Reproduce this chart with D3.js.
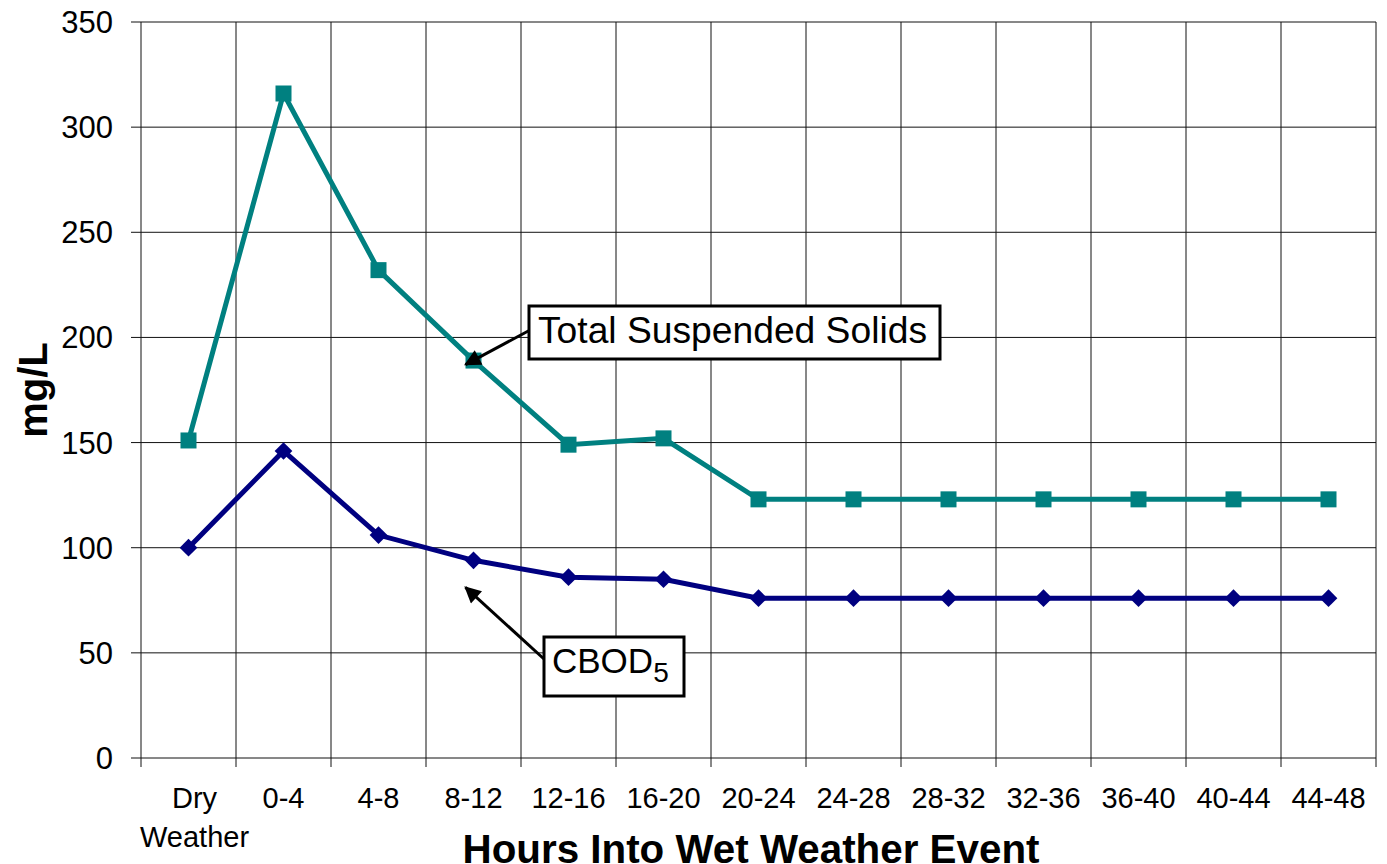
<!DOCTYPE html>
<html>
<head>
<meta charset="utf-8">
<script src="https://cdn.jsdelivr.net/npm/d3@7"></script>
<style>
  body { margin: 0; background: #fff; overflow: hidden; }
  text { font-family: "Liberation Sans", Arial, sans-serif; }
</style>
</head>
<body>
<script>
var width = 1387, height = 864
var margin = {top: 22, right: 11, bottom: 106, left: 141}

var categories = ["Dry\nWeather", "0-4", "4-8", "8-12", "12-16", "16-20", "20-24", "24-28", "28-32", "32-36", "36-40", "40-44", "44-48"]
var tss = [151, 316, 232, 189, 149, 152, 123, 123, 123, 123, 123, 123, 123]
var cbod = [100, 146, 106, 94, 86, 85, 76, 76, 76, 76, 76, 76, 76]
var yTicks = [0, 50, 100, 150, 200, 250, 300, 350]

var svg = d3.select("body").append("svg")
    .attr("width", width)
    .attr("height", height)

var w = width - margin.left - margin.right,
    h = height - margin.top - margin.bottom

var g = svg.append("g").attr("transform", "translate(" + margin.left + "," + margin.top + ")")

var x = d3.scaleBand().domain(categories).range([0, w])
var y = d3.scaleLinear().domain([0, 350]).range([h, 0])

// horizontal grid + ticks
g.selectAll(".hgrid").data(yTicks).enter().append("line")
    .attr("x1", -10).attr("x2", w)
    .attr("y1", function(d) { return y(d) }).attr("y2", function(d) { return y(d) })
    .attr("stroke", "#111").attr("stroke-width", 1)

// vertical grid on band edges, running past the axis as ticks
var bounds = categories.map(function(c) { return x(c) }).concat([w])
g.selectAll(".vgrid").data(bounds).enter().append("line")
    .attr("x1", function(d) { return d }).attr("x2", function(d) { return d })
    .attr("y1", 0).attr("y2", h + 9)
    .attr("stroke", "#111").attr("stroke-width", 1)

// y tick labels
g.selectAll(".ylab").data(yTicks).enter().append("text")
    .attr("x", -28).attr("y", function(d) { return y(d) + 11 })
    .attr("text-anchor", "end")
    .attr("font-size", 31)
    .text(function(d) { return d })

// x tick labels
categories.forEach(function(c) {
  var lines = c.split("\n")
  var cx = x(c) + x.bandwidth() / 2 + (lines.length > 1 ? 6 : 0)
  var t = g.append("text")
      .attr("y", h + 50)
      .attr("text-anchor", "middle")
      .attr("font-size", 29)
  lines.forEach(function(l, i) {
    t.append("tspan")
      .attr("x", cx)
      .attr("dy", i == 0 ? 0 : 39)
      .text(l)
  })
})

// axis titles
svg.append("text")
    .attr("x", 751).attr("y", 863)
    .attr("text-anchor", "middle")
    .attr("font-size", 40).attr("font-weight", "bold")
    .attr("textLength", 577).attr("lengthAdjust", "spacingAndGlyphs")
    .text("Hours Into Wet Weather Event")

svg.append("text")
    .attr("transform", "translate(47,390) rotate(-90)")
    .attr("text-anchor", "middle")
    .attr("font-size", 40).attr("font-weight", "bold")
    .text("mg/L")

var line = d3.line()
    .x(function(d, i) { return x(categories[i]) + x.bandwidth() / 2 })
    .y(function(d) { return y(d) })

// TSS
g.append("path").datum(tss)
    .attr("d", line).attr("fill", "none")
    .attr("stroke", "#008080").attr("stroke-width", 5)
g.selectAll(".tss").data(tss).enter().append("rect")
    .attr("x", function(d, i) { return x(categories[i]) + x.bandwidth() / 2 - 8 })
    .attr("y", function(d) { return y(d) - 8 })
    .attr("width", 16).attr("height", 16)
    .attr("fill", "#008080")

// CBOD5
g.append("path").datum(cbod)
    .attr("d", line).attr("fill", "none")
    .attr("stroke", "#000080").attr("stroke-width", 5)
g.selectAll(".cbod").data(cbod).enter().append("path")
    .attr("d", d3.symbol().type(d3.symbolDiamond2).size(200))
    .attr("transform", function(d, i) {
      return "translate(" + (x(categories[i]) + x.bandwidth() / 2) + "," + y(d) + ")"
    })
    .attr("fill", "#000080")

// arrow head
svg.append("defs").append("marker").attr("id", "arr")
    .attr("viewBox", "0 0 10 10").attr("refX", 9).attr("refY", 5)
    .attr("markerWidth", 6).attr("markerHeight", 5.5)
    .attr("orient", "auto")
  .append("path").attr("d", "M0,0L10,5L0,10z").attr("fill", "#000")

// annotations
var tipX = x("8-12") + x.bandwidth() / 2 - 8
g.append("line")
    .attr("x1", 532 - margin.left).attr("y1", 329 - margin.top)
    .attr("x2", tipX).attr("y2", y(tss[3]) + 4)
    .attr("stroke", "#000").attr("stroke-width", 3).attr("marker-end", "url(#arr)")
g.append("line")
    .attr("x1", 544 - margin.left).attr("y1", 659 - margin.top)
    .attr("x2", tipX).attr("y2", y(cbod[3]) + 27)
    .attr("stroke", "#000").attr("stroke-width", 3).attr("marker-end", "url(#arr)")

g.append("rect")
    .attr("x", 529 - margin.left).attr("y", 306 - margin.top)
    .attr("width", 411).attr("height", 53)
    .attr("fill", "#fff").attr("stroke", "#000").attr("stroke-width", 3)
g.append("text")
    .attr("x", 538 - margin.left).attr("y", 343 - margin.top)
    .attr("font-size", 36)
    .attr("textLength", 389).attr("lengthAdjust", "spacingAndGlyphs")
    .text("Total Suspended Solids")

g.append("rect")
    .attr("x", 544 - margin.left).attr("y", 637 - margin.top)
    .attr("width", 140).attr("height", 59)
    .attr("fill", "#fff").attr("stroke", "#000").attr("stroke-width", 3)
var ct = g.append("text")
    .attr("x", 552 - margin.left).attr("y", 673 - margin.top)
    .attr("font-size", 35)
ct.append("tspan").text("CBOD")
ct.append("tspan").attr("font-size", 28).attr("dy", 9).text("5")
</script>
</body>
</html>
